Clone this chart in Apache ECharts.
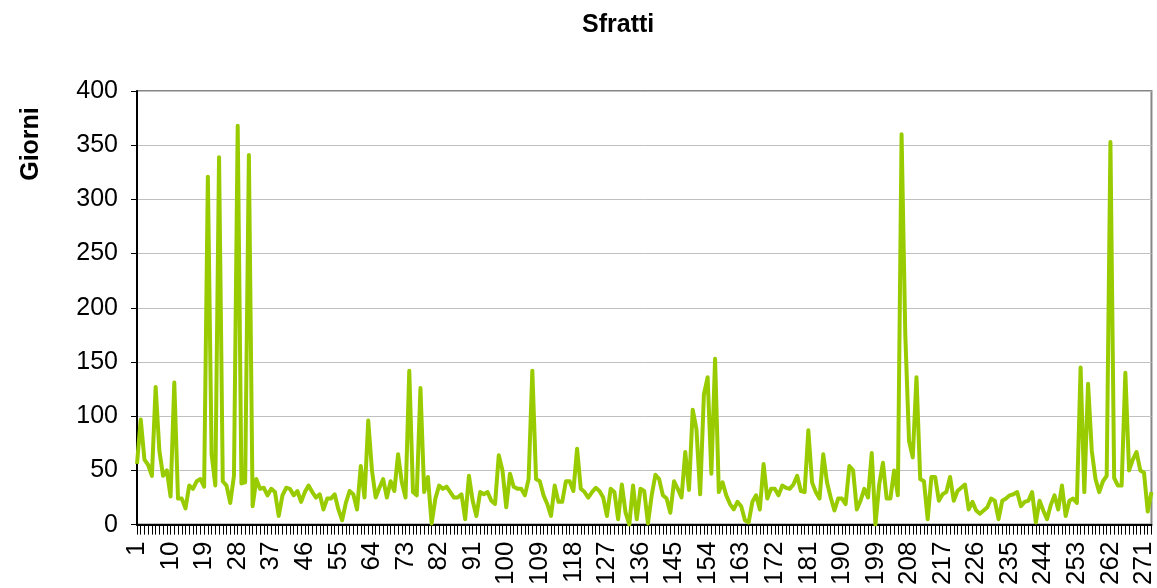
<!DOCTYPE html>
<html>
<head>
<meta charset="utf-8">
<title>Sfratti</title>
<script src="https://cdn.jsdelivr.net/npm/echarts@6/dist/echarts.min.js"></script>
<style>
  html, body { margin: 0; padding: 0; background: #fff; }
  #chart { width: 1157px; height: 588px; }
</style>
</head>
<body>
<div id="chart"></div>
<script>
  // giorni per pratica (273 pratiche)
  var giorni = [
    56, 97, 60, 55, 45, 127, 68, 45, 50, 26,
    131, 24, 24, 15, 36, 33, 40, 42, 35, 321,
    65, 36, 339, 40, 36, 20, 45, 368, 38, 39,
    341, 17, 42, 33, 34, 27, 33, 30, 8, 27,
    34, 33, 27, 31, 21, 30, 36, 30, 25, 28,
    14, 24, 24, 28, 14, 4, 20, 31, 28, 14,
    54, 25, 96, 50, 25, 34, 42, 25, 40, 31,
    65, 39, 25, 142, 30, 27, 126, 30, 44, 1,
    24, 36, 33, 35, 30, 25, 25, 28, 5, 45,
    22, 8, 30, 28, 30, 22, 19, 64, 50, 16,
    47, 35, 33, 33, 27, 42, 142, 42, 40, 27,
    19, 8, 36, 21, 21, 40, 40, 31, 70, 33,
    30, 25, 30, 34, 31, 25, 8, 33, 30, 5,
    37, 11, 0, 36, 5, 33, 31, 1, 27, 46,
    42, 27, 24, 11, 40, 33, 25, 67, 32, 106,
    88, 28, 120, 136, 47, 153, 30, 39, 27, 19,
    14, 21, 17, 4, 2, 21, 27, 14, 56, 24,
    33, 33, 27, 36, 34, 33, 37, 45, 31, 30,
    87, 39, 30, 24, 65, 39, 25, 13, 24, 24,
    19, 54, 50, 14, 22, 33, 25, 66, 0, 37,
    57, 24, 24, 50, 27, 360, 175, 77, 62, 136,
    42, 40, 5, 44, 44, 22, 28, 30, 44, 22,
    31, 34, 37, 14, 21, 13, 10, 13, 16, 24,
    22, 5, 22, 24, 27, 28, 30, 17, 21, 22,
    30, 2, 22, 13, 5, 18, 27, 14, 36, 8,
    22, 24, 20, 145, 30, 130, 68, 42, 30, 40,
    45, 353, 43, 36, 36, 140, 50, 60, 67, 50,
    48, 12, 30
  ]

  // categorie 1..273
  var pratiche = []
  for (var i = 1; i <= giorni.length; i++) {
    pratiche.push(String(i))
  }

  var yTicks = [0, 50, 100, 150, 200, 250, 300, 350, 400]

  var font = 'Liberation Sans, Arial, sans-serif'

  var chart = echarts.init(document.getElementById('chart'))
  chart.setOption({
    animation: false,
    backgroundColor: '#fff',
    title: {
      text: 'Sfratti',
      left: 577,
      top: 8,
      textStyle: {
        fontFamily: font,
        fontSize: 25,
        fontWeight: 'bold',
        color: '#000'
      }
    },
    graphic: [{
      type: 'text',
      x: 31,
      y: 144,
      rotation: Math.PI / 2,
      style: {
        text: 'Giorni',
        font: 'bold 25px ' + font,
        fill: '#000',
        align: 'center',
        verticalAlign: 'middle'
      }
    }],
    grid: {
      left: 137,
      right: 4,
      top: 91,
      bottom: 61,
      show: true,
      borderColor: '#868686',
      borderWidth: 2,
      backgroundColor: '#fff'
    },
    xAxis: {
      type: 'category',
      data: pratiche,
      boundaryGap: false,
      axisLine: { lineStyle: { color: '#000', width: 2 } },
      axisTick: {
        show: true,
        interval: 0,
        length: 10,
        lineStyle: { color: '#000', width: 1 }
      },
      axisLabel: {
        interval: 8,
        rotate: 90,
        margin: 17,
        fontFamily: font,
        fontSize: 26,
        color: '#000'
      },
      splitLine: { show: false }
    },
    yAxis: {
      type: 'value',
      min: yTicks[0],
      max: yTicks[yTicks.length - 1],
      interval: 50,
      axisLine: { show: true, lineStyle: { color: '#000', width: 2 } },
      axisTick: { show: true, length: 6, lineStyle: { color: '#000' } },
      axisLabel: {
        margin: 19,
        fontFamily: font,
        fontSize: 25,
        color: '#000'
      },
      splitLine: { lineStyle: { color: '#c0c0c0', width: 1 } }
    },
    series: [{
      name: 'Giorni',
      type: 'line',
      data: giorni,
      showSymbol: false,
      symbol: 'none',
      lineStyle: { color: '#99cc00', width: 4, join: 'round' },
      itemStyle: { color: '#99cc00' }
    }]
  })
</script>
</body>
</html>
